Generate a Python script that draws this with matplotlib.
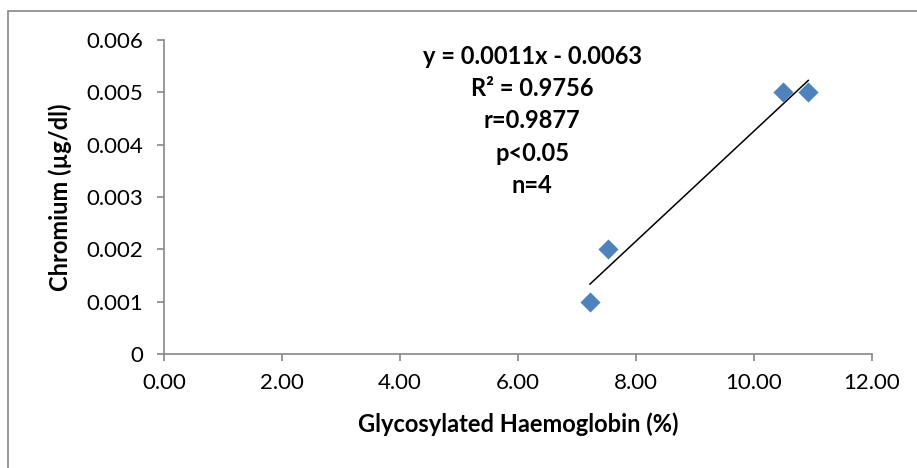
import numpy as np
import matplotlib
matplotlib.use("Agg")
import matplotlib.pyplot as plt
from matplotlib.patches import Rectangle
from matplotlib.ticker import FuncFormatter

# datos
hba1c = [7.22, 7.53, 10.49, 10.92]
cromo = [0.001, 0.002, 0.005, 0.005]
texto_ecuacion = ["y = 0.0011x - 0.0063", "R² = 0.9756", "r=0.9877", "p<0.05", "n=4"]

plt.rcParams['font.family'] = ['Lato', 'DejaVu Sans']
gris = '#868686'

fig = plt.figure(figsize=(9.17, 4.68), dpi=100)
# borde del area del grafico
fig.patches.append(Rectangle((8 / 917, -0.1), 1.2, 1 - 11 / 468 + 0.1,
                             transform=fig.transFigure, fill=False,
                             edgecolor=gris, linewidth=1.2))
ax = fig.add_axes([164 / 917, 1 - 354 / 468, 708 / 917, 314 / 468])

ax.scatter(hba1c, cromo, marker='D', s=105, color='#4F81BD', zorder=3, linewidths=0)

# linea de tendencia lineal
m, b = np.polyfit(hba1c, cromo, 1)
xs = np.array([min(hba1c), max(hba1c)])
ax.plot(xs, m * xs + b, color='black', linewidth=1.1, zorder=2)

ax.set_xlim(0, 12)
ax.set_ylim(0, 0.006)
ax.set_xticks(np.arange(0, 12.1, 2))
ax.set_yticks(np.arange(0, 0.0061, 0.001))
ax.xaxis.set_major_formatter(FuncFormatter(lambda v, p: f"{v:.2f}"))
ax.yaxis.set_major_formatter(FuncFormatter(lambda v, p: "0" if abs(v) < 1e-9 else f"{v:.3f}"))

for lado in ['top', 'right']:
    ax.spines[lado].set_visible(False)
for lado in ['left', 'bottom']:
    ax.spines[lado].set_color(gris)
    ax.spines[lado].set_linewidth(1.2)
ax.tick_params(direction='out', length=5, width=1.2, color=gris, labelsize=16)
ax.tick_params(axis='y', pad=10)
ax.tick_params(axis='x', pad=9)

ax.set_xlabel('Glycosylated Haemoglobin (%)', fontsize=17, fontweight='bold', labelpad=14)
ax.set_ylabel('Chromium (µg/dl)', fontsize=17, fontweight='bold', labelpad=10)

for i, linea in enumerate(texto_ecuacion):
    ax.text(0.52, (354 - 56) / 314 - i * 0.1035, linea, transform=ax.transAxes,
            ha='center', va='center', fontsize=17, fontweight='bold')

fig.savefig('out.png', dpi=100)
